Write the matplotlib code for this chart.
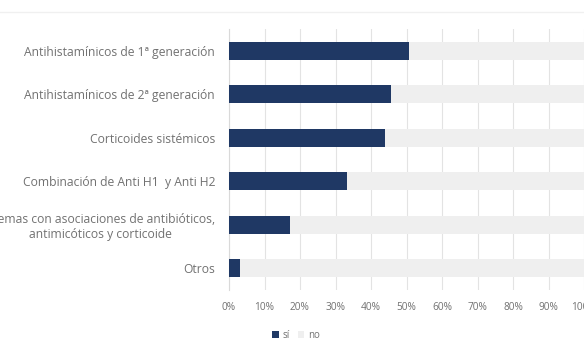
import matplotlib.pyplot as plt
import numpy as np
from matplotlib.lines import Line2D

categories = [
    "Antihistamínicos de 1ª generación",
    "Antihistamínicos de 2ª generación",
    "Corticoides sistémicos",
    "Combinación de Anti H1  y Anti H2",
    "Cremas con asociaciones de antibióticos,\nantimicóticos y corticoide",
    "Otros",
]
si_pct = [50.7, 45.6, 44.0, 33.3, 17.2, 3.2]
no_pct = [100 - v for v in si_pct]
xticks = np.arange(0, 101, 10)

navy = "#1f3864"
light = "#efefef"
text_col = "#717171"

plt.rcParams["font.family"] = ["Open Sans", "DejaVu Sans"]

fig = plt.figure(figsize=(5.84, 3.47), dpi=100)
ax = fig.add_axes([229 / 584, 1 - 290 / 347, 355 / 584, 261 / 347])

y = np.arange(len(categories))
h = 0.42
ax.barh(y, si_pct, height=h, color=navy, label="sí", zorder=3)
ax.barh(y, no_pct, left=si_pct, height=h, color=light, label="no", zorder=3)

ax.set_xlim(0, 100)
ax.set_ylim(len(categories) - 0.5, -0.5)
ax.set_xticks(xticks)
ax.set_xticklabels([f"{t}%" for t in xticks], fontsize=7.3, color=text_col)
ax.set_yticks(y)
ax.set_yticklabels(categories, fontsize=8.7, color=text_col, multialignment="center",
                   linespacing=1.2)
ax.tick_params(axis="both", length=0)
ax.tick_params(axis="x", pad=9)
ax.tick_params(axis="y", pad=10)

ax.grid(axis="x", color="#e3e3e3", linewidth=0.8, zorder=0)
for side in ["top", "right", "bottom"]:
    ax.spines[side].set_visible(False)
ax.spines["left"].set_color("#d9d9d9")
ax.spines["left"].set_linewidth(0.8)

# faint frame line above the plot area
fig.add_artist(Line2D([0, 1], [1 - 12 / 347, 1 - 12 / 347], color="#f0f0f0", linewidth=1))

fig.legend(
    loc="center",
    bbox_to_anchor=(296 / 584, 1 - 335 / 347),
    ncol=2,
    frameon=False,
    fontsize=7,
    labelcolor=text_col,
    handlelength=0.7,
    handleheight=0.7,
    handletextpad=0.4,
    columnspacing=0.8,
)

fig.savefig("out.png", dpi=100, facecolor="white")
